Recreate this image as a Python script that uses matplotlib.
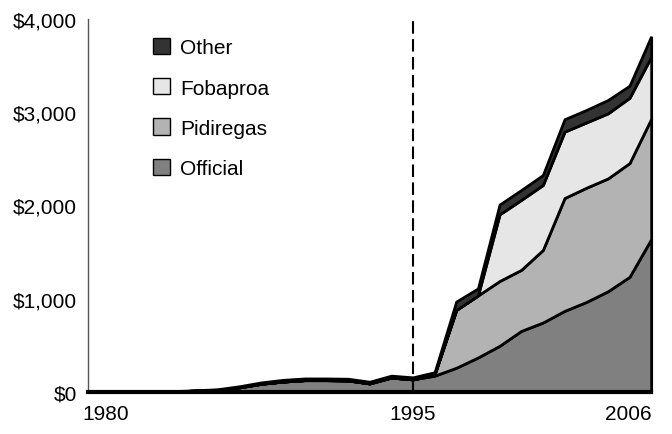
import numpy as np
import matplotlib
matplotlib.use('Agg')
from matplotlib import pyplot as plt
from matplotlib.transforms import ScaledTranslation

plt.rcParams['font.family'] = ['Liberation Sans', 'DejaVu Sans']

years = list(range(1980, 2007))
official = [0, 0, 2, 4, 8, 14, 22, 50, 88, 112, 127, 127, 124, 92, 155, 135,
            175, 260, 370, 495, 655, 745, 870, 965, 1080, 1235, 1640]
pidiregas = [0] * 16 + [15, 620, 665, 695, 655, 778, 1210, 1225, 1210, 1220, 1290]
fobaproa = [0] * 18 + [0, 715, 750, 697, 712, 700, 698, 700, 665]
other = [0, 0, 0, 0, 2, 4, 8, 12, 15, 18, 18, 18, 18, 18, 20, 22,
         22, 90, 75, 105, 106, 107, 133, 134, 143, 130, 220]

labels = ['Official', 'Pidiregas', 'Fobaproa', 'Other']
colors = ['#808080', '#b3b3b3', '#e6e6e6', '#333333']
yticks = [0, 1000, 2000, 3000, 4000]
ytick_labels = ['$0', '$1,000', '$2,000', '$3,000', '$4,000']
xticks = [1980, 1995, 2006]
xtick_labels = ['1980', '1995', '2006']

fig = plt.figure(figsize=(6.72, 4.35), dpi=100)
ax = fig.add_axes([0.131, 0.0966, 0.838, 0.8574])

polys = ax.stackplot(years, official, pidiregas, fobaproa, other,
                     colors=colors, labels=labels,
                     edgecolor='black', linewidth=2.0)
for p in polys:
    p.set_clip_on(False)
    p.set_joinstyle('miter')

ax.axvline(1995, color='black', linestyle=(0, (6, 2.6)), linewidth=1.5)

ax.set_xlim(1980, 2006)
ax.set_ylim(0, 4000)
ax.set_yticks(yticks)
ax.set_yticklabels(ytick_labels, fontsize=15)
ax.set_xticks(xticks)
ax.set_xticklabels(xtick_labels, fontsize=15)
ax.tick_params(length=0)
ax.tick_params(axis='y', pad=8)
ax.tick_params(axis='x', pad=9)
xl = ax.get_xticklabels()
xl[0].set_horizontalalignment('left')
xl[0].set_transform(xl[0].get_transform() +
                    ScaledTranslation(-6 / 100, 0, fig.dpi_scale_trans))
xl[2].set_horizontalalignment('right')

for s in ['top', 'right']:
    ax.spines[s].set_visible(False)
ax.spines['left'].set_color('#555555')
ax.spines['left'].set_linewidth(1.0)
ax.spines['bottom'].set_linewidth(3)
ax.spines['bottom'].set_zorder(5)

handles, labs = ax.get_legend_handles_labels()
leg = ax.legend(handles[::-1], labs[::-1], loc='upper left',
                bbox_to_anchor=(0.115, 0.949), frameon=False, fontsize=15,
                handlelength=0.82, handleheight=0.82, labelspacing=1.0,
                handletextpad=0.5, borderpad=0, borderaxespad=0)
for h in leg.legend_handles:
    h.set_linewidth(1.0)

fig.savefig('out.png', dpi=100)
